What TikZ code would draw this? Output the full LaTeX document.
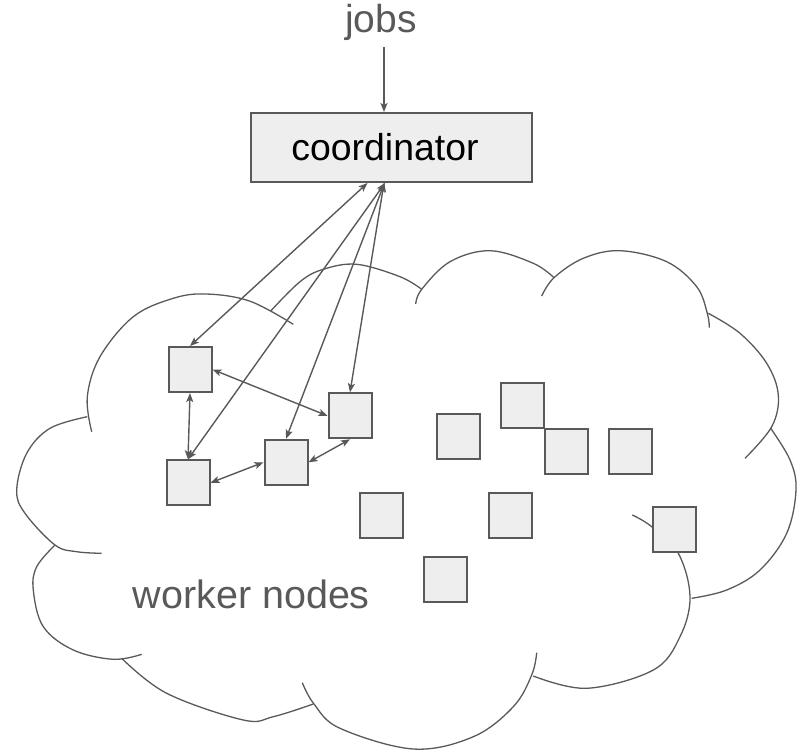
\documentclass[tikz,border=0pt]{standalone}
\usepackage{fontspec}
\setmainfont{Liberation Sans}
\usetikzlibrary{arrows.meta,calc}

\definecolor{linegray}{HTML}{595959}
\definecolor{boxfill}{HTML}{EEEEEE}

\tikzset{
  worker/.style={draw=linegray, fill=boxfill, line width=2pt,
    minimum width=43pt, minimum height=45pt, inner sep=0pt},
  coordbox/.style={draw=linegray, fill=boxfill, line width=2pt,
    minimum width=281pt, minimum height=69pt, inner sep=0pt},
  cloudline/.style={draw=linegray, line width=1.3pt, smooth, tension=0.6},
  tip/.tip={Stealth[length=9pt,width=7pt,inset=2pt]},
  arr/.style={draw=linegray, line width=1.4pt, -tip},
  darr/.style={draw=linegray, line width=1.4pt, tip-tip},
  label/.style={text=linegray, inner sep=0pt, outer sep=0pt}
}

\begin{document}
\begin{tikzpicture}[x=1pt, y=-1pt]
\useasboundingbox (0,0) rectangle (803,750);

% cloud outline, one lobe at a time
\draw[cloudline] plot coordinates {(91.7,431.7) (87.3,396.7) (100,356.7) (133.3,316.7) (173.3,298.3) (206.7,294) (250,301.2) (293.3,324.3)};
\draw[cloudline] plot coordinates {(270.7,311) (300,281.7) (323.3,269.3) (356.7,264.3) (400,276.7) (421.7,289.3)};
\draw[cloudline] plot coordinates {(415.7,304) (421.7,289.3) (450,261.7) (490,250.7) (533.3,263.3) (554,277.7)};
\draw[cloudline] plot coordinates {(541.7,296) (554,277.7) (583.3,258.3) (620,250.7) (666.7,261.7) (696.7,286.7) (707.3,313.3) (709.3,327.7)};
\draw[cloudline] plot coordinates {(708.3,313.3) (740,333.3) (766.7,363.3) (778.3,395) (771.7,426.7) (745,458.3)};
\draw[cloudline] plot coordinates {(770.7,428.3) (790,460) (796,490) (786.7,533.3) (760,570) (726.7,590) (691.7,598.3)};
\draw[cloudline] plot coordinates {(632.3,515) (651.7,526.7) (678.3,553.3) (690,596.7) (680,636.7) (653.3,670) (586.7,688.3) (533.3,676)};
\draw[cloudline] plot coordinates {(302.3,682.7) (314,704) (340,728.3) (413.3,749) (473.3,736.7) (513.3,706.7) (531.7,675) (536.7,652.7)};
\draw[cloudline] plot coordinates {(121.7,658.3) (166.7,693.3) (243.3,720) (273.3,716.7) (313.3,704)};
\draw[cloudline] plot coordinates {(55,545) (36.7,566.7) (33.3,590) (43.3,626.7) (73.3,650) (113.3,659.3) (141.7,654.3)};
\draw[cloudline] plot coordinates {(87.3,416.7) (50,428.3) (26.7,453.3) (16.7,490) (25,513.3) (55,545) (76.7,551.7) (101.7,553.3)};

% coordinator and incoming jobs
\node[coordbox] (coord) at (391.5,147.5) {\fontsize{37.4}{40}\selectfont\hspace*{-13pt}coordinator};
\node[label, anchor=base] (jobs) at (381,32) {\fontsize{39}{42}\selectfont jobs};
\coordinate (jin) at ([xshift=-7.5pt]coord.north);
\draw[arr, shorten <=7pt] (jobs.south -| jin) -- (jin);

% worker nodes
\node[worker] (A) at (190,369.5) {};
\node[worker] (B) at (188,482.8) {};
\node[worker] (C) at (286,462.3) {};
\node[worker] (D) at (350,415.8) {};
\node[worker] (E) at (458.2,436.7) {};
\node[worker] (F) at (522,405) {};
\node[worker] (G) at (566.5,451) {};
\node[worker] (H) at (630.5,451) {};
\node[worker] (I) at (381.8,515) {};
\node[worker] (J) at (510,515) {};
\node[worker] (K) at (674.2,529.3) {};
\node[worker] (L) at (445.8,579) {};

\node[label, anchor=base west] (wlabel) at (132.7,608.3) {\fontsize{39.5}{42}\selectfont worker nodes};

% coordinator <-> workers
\coordinate (cA) at ([xshift=-24pt]coord.south);
\coordinate (cB) at ([xshift=-6.5pt]coord.south);
\coordinate (cC) at ([xshift=-7pt]coord.south);
\coordinate (cD) at ([xshift=-7.5pt]coord.south);
\draw[darr] (cA) -- (A.north);
\draw[darr] (cB) -- (B.north);
\draw[darr] (cC) -- (C.north);
\draw[darr] (cD) -- (D.north);

% workers <-> workers
\draw[darr] (A.east) -- (D.west);
\draw[darr] (A.south) -- (B.north);
\draw[darr] (B.east) -- (C.west);
\draw[darr] (C.east) -- (D.south);
\end{tikzpicture}
\end{document}
